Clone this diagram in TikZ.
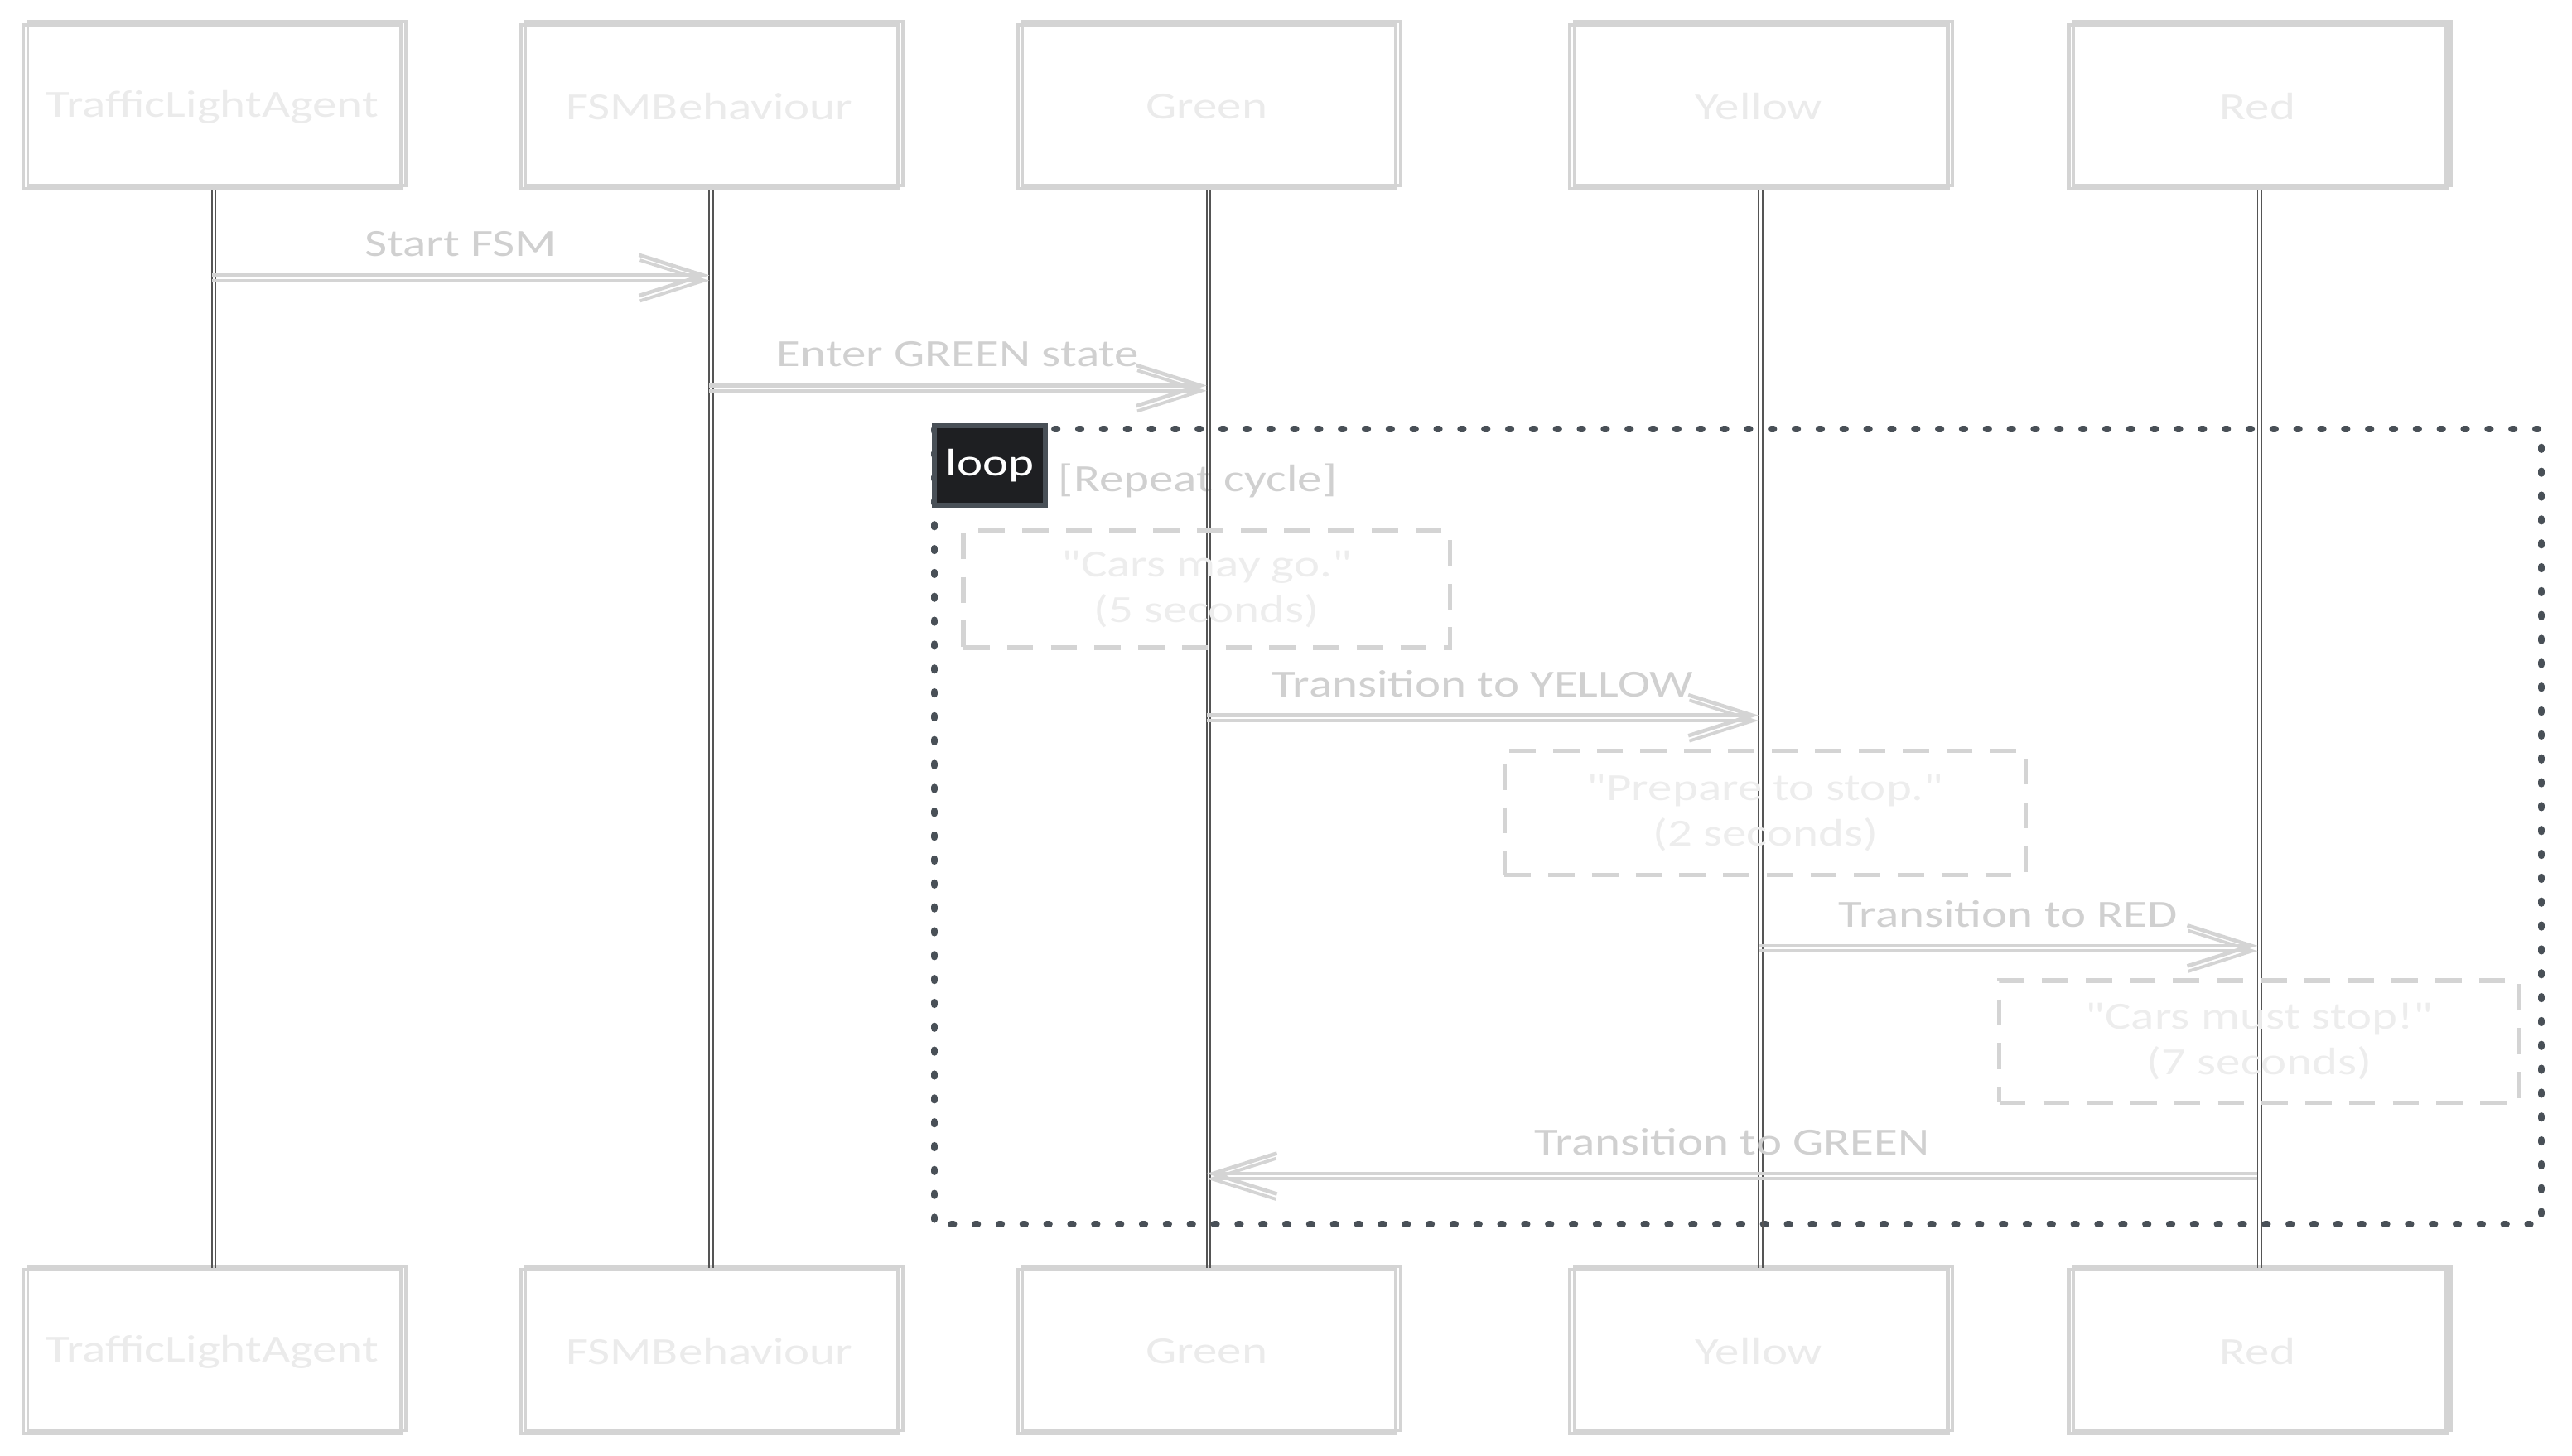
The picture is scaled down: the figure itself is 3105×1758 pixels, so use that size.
\documentclass[tikz,border=0pt]{standalone}
\usepackage{fontspec}
\newfontfamily\sketchfont[FakeStretch=1.27]{Carlito}
\usepackage{tikz}
\usetikzlibrary{
	arrows.meta,
	positioning,
}
\definecolor{boxgray}{HTML}{D4D4D4}
\definecolor{titlegray}{HTML}{EBEBEB}
\definecolor{lblgray}{HTML}{D0D0D0}
\definecolor{notetext}{HTML}{EDEDED}
\definecolor{lifegray}{HTML}{555555}
\definecolor{loopgray}{HTML}{495057}
\definecolor{tabfill}{HTML}{1E1F22}

\begin{document}
\begin{tikzpicture}[
	x=0.01cm, y=-0.01cm,
	>={Straight Barb[length=22pt,width=14pt]},
	font=\sketchfont\fontsize{13.2}{15.6}\selectfont,
	node distance = 6cm,
	actor/.style={draw=boxgray,line width=1.3pt,text=titlegray,
		minimum width=4.56cm,minimum height=1.98cm,
		postaction={draw=boxgray,line width=1.1pt,transform canvas={shift={(1.6pt,1.2pt)}}}},
	life/.style={draw=lifegray,line width=0.5pt,
		postaction={draw=lifegray,line width=0.5pt,transform canvas={xshift=1.3pt}}},
	msg/.style={->,draw=boxgray,line width=1.3pt,
		postaction={draw=boxgray,line width=1.1pt,transform canvas={yshift=-1.8pt}}},
	lbl/.style={text=lblgray,midway,yshift=0.38cm},
	note/.style={draw=boxgray,line width=1.5pt,dash pattern=on 9pt off 6pt,
		text=notetext,align=center},
	loopframe/.style={draw=loopgray,line width=2.4pt,line cap=round,dash pattern=on 0.8pt off 7.4pt},
	looptab/.style={fill=tabfill,draw=loopgray,line width=1.8pt,text=white,
		minimum width=1.34cm,minimum height=0.96cm},
	]
	\useasboundingbox (0,0) rectangle (3105,1758);

	%% top row
	\node (agent) [actor] at (256,129) {TrafficLightAgent};
	\node (fsm) [actor,right of=agent] {FSMBehaviour};
	\node (green) [actor,right of=fsm] {Green};
	\node (yellow) [actor,right of=green,xshift=6.6mm] {Yellow};
	\node (red) [actor,right of=yellow,xshift=0.2mm] {Red};

	%% bottom row
	\node (agent2) [actor,below of=agent,node distance=15.02cm] {TrafficLightAgent};
	\node (fsm2) [actor,below of=fsm,node distance=15.02cm] {FSMBehaviour};
	\node (green2) [actor,below of=green,node distance=15.02cm] {Green};
	\node (yellow2) [actor,below of=yellow,node distance=15.02cm] {Yellow};
	\node (red2) [actor,below of=red,node distance=15.02cm] {Red};

	%% loop frame
	\draw[loopframe] (1128,518) rectangle (3068,1478);
	\node (tab) [looptab] at (1195,562) {loop};
	\node (guard) [right=0.12cm of tab,yshift=-1.8mm,inner sep=0pt,text=lblgray] {[Repeat cycle]};

	%% lifelines
	\draw[life] (agent) -- (agent2);
	\draw[life] (fsm) -- (fsm2);
	\draw[life] (green) -- (green2);
	\draw[life] (yellow) -- (yellow2);
	\draw[life] (red) -- (red2);

	%% notes
	\node (note1) [note,below of=green,node distance=5.82cm,
		minimum width=5.87cm,minimum height=1.41cm] {"Cars may go."\\(5 seconds)};
	\node (note2) [note,below of=yellow,node distance=8.52cm,xshift=0.8mm,
		minimum width=6.29cm,minimum height=1.50cm] {"Prepare to stop."\\(2 seconds)};
	\node (note3) [note,below of=red,node distance=11.28cm,xshift=0.2mm,
		minimum width=6.27cm,minimum height=1.47cm] {"Cars must stop!"\\(7 seconds)};

	%% messages
	\draw[msg] ([yshift=-1.02cm]agent.south) -- ([yshift=-1.02cm]fsm.south)
		node[lbl] {Start FSM};
	\draw[msg] ([yshift=-2.35cm]fsm.south) -- ([yshift=-2.35cm]green.south)
		node[lbl] {Enter GREEN state};
	\draw[msg] ([yshift=-6.33cm]green.south) -- ([yshift=-6.33cm]yellow.south)
		node[lbl] {Transition to YELLOW};
	\draw[msg] ([yshift=-9.11cm]yellow.south) -- ([yshift=-9.11cm]red.south)
		node[lbl] {Transition to RED};
	\draw[msg] ([yshift=-11.86cm]red.south) -- ([yshift=-11.86cm]green.south)
		node[lbl] {Transition to GREEN};

\end{tikzpicture}
\end{document}
